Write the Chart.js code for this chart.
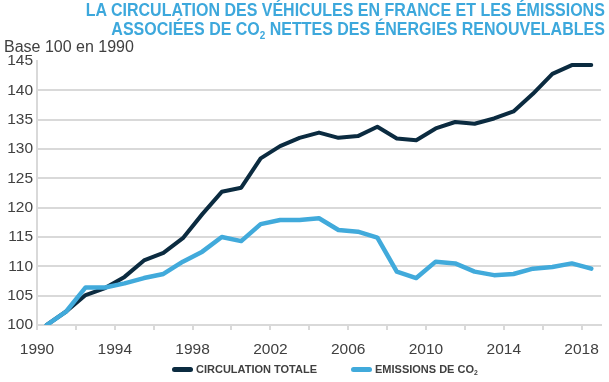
<!DOCTYPE html>
<html>
<head>
<meta charset="utf-8">
<script src="https://cdn.jsdelivr.net/npm/chart.js@4/dist/chart.umd.min.js"></script>
<style>
  html, body { margin: 0; padding: 0; background: #fff; }
  #wrap { position: relative; width: 609px; height: 382px; overflow: hidden; }
  #title { position: absolute; right: 4px; top: 1px; text-align: right; color: #3da8dc;
           font-family: "Liberation Sans", Arial, sans-serif; font-weight: bold;
           font-size: 17.5px; line-height: 19px; white-space: nowrap; transform-origin: right top; }
  #title sub, #legend sub { font-size: 0.62em; line-height: 0; vertical-align: -0.35em; }
  #sub { position: absolute; left: 4px; top: 38px; color: #404040;
         font-family: "Liberation Sans", Arial, sans-serif; font-size: 16px; line-height: 18px; }
  #legend { position: absolute; left: 172px; top: 363px; display: flex; align-items: center;
            font-family: "Liberation Sans", Arial, sans-serif; font-weight: bold; font-size: 11px; color: #404040; }
  .item { display: flex; align-items: center; margin-right: 34px; }
  .sw { width: 21px; height: 5px; border-radius: 3px; margin-right: 3px; }
  canvas { position: absolute; left: 0; top: 0; }
</style>
</head>
<body>
<div id="wrap">
  <canvas id="c" width="609" height="382"></canvas>
  <div id="title">LA CIRCULATION DES VÉHICULES EN FRANCE ET LES ÉMISSIONS<br>ASSOCIÉES DE CO<sub>2</sub> NETTES DES ÉNERGIES RENOUVELABLES</div>
  <div id="sub">Base 100 en 1990</div>
  <div id="legend"></div>
</div>
<script>
const years = [1990,1991,1992,1993,1994,1995,1996,1997,1998,1999,2000,2001,2002,2003,2004,
               2005,2006,2007,2008,2009,2010,2011,2012,2013,2014,2015,2016,2017,2018];
const circulationTotale = [100,102.3,105.1,106.3,108.2,111.0,112.3,114.8,118.9,122.7,123.4,128.4,130.5,131.9,132.8,
                           131.9,132.2,133.8,131.8,131.5,133.5,134.6,134.3,135.2,136.4,139.4,142.8,144.3,144.3];
const emissionsCO2 = [100,102.3,106.4,106.4,107.1,108.0,108.7,110.8,112.5,115.0,114.3,117.2,117.9,117.9,118.2,
                      116.2,115.9,114.9,109.1,108.0,110.8,110.5,109.1,108.5,108.7,109.6,109.9,110.5,109.6];
const xLabels = ["1990","1994","1998","2002","2006","2010","2014","2018"];
const seriesNames = ["CIRCULATION TOTALE", "EMISSIONS DE CO₂"];
const colors = ["#0b2b40", "#41aadb"];

// condense the title to the width it occupies in the reference
const title = document.getElementById('title');
const natural = title.getBoundingClientRect().width;
title.style.transform = 'scaleX(' + (519 / natural) + ')';

const leg = document.getElementById('legend');
seriesNames.forEach((n, i) => {
  const it = document.createElement('div'); it.className = 'item';
  const sw = document.createElement('div'); sw.className = 'sw'; sw.style.background = colors[i];
  const t = document.createElement('span');
  const parts = n.split('₂');
  t.appendChild(document.createTextNode(parts[0]));
  if (parts.length > 1) {
    const s = document.createElement('sub'); s.textContent = '2'; t.appendChild(s);
    t.appendChild(document.createTextNode(parts[1]));
  }
  it.appendChild(sw); it.appendChild(t); leg.appendChild(it);
});

const toPts = arr => arr.map((v, i) => ({x: years[i], y: v}));
const gridGray = '#d9d9d9';
const tickFont = {family: '"Liberation Sans", Arial, sans-serif', size: 15.5};

new Chart(document.getElementById('c'), {
  type: 'line',
  data: {
    datasets: [
      {label: seriesNames[0], data: toPts(circulationTotale), borderColor: colors[0], borderWidth: 4,
       pointRadius: 0, tension: 0, borderCapStyle: 'round', borderJoinStyle: 'round', order: 1},
      {label: seriesNames[1], data: toPts(emissionsCO2), borderColor: colors[1], borderWidth: 4.5,
       pointRadius: 0, tension: 0, borderCapStyle: 'round', borderJoinStyle: 'round', order: 0}
    ]
  },
  options: {
    responsive: false,
    animation: false,
    layout: {padding: {top: 61, right: 6, left: 0, bottom: 0}},
    plugins: {legend: {display: false}, tooltip: {enabled: false}, title: {display: false}},
    scales: {
      x: {
        type: 'linear',
        min: years[0] - 0.5,
        max: years[years.length - 1] + 0.5,
        afterBuildTicks: s => {
          const t = [];
          for (let v = years[0] - 0.5; v < years[years.length - 1]; v += 2) t.push({value: v});
          s.ticks = t;
        },
        afterFit: s => { s.height = 57; },
        border: {display: true, color: gridGray, width: 2},
        grid: {drawOnChartArea: false, drawTicks: true, tickLength: 5, color: gridGray, lineWidth: 2},
        ticks: {
          autoSkip: false, maxRotation: 0, padding: 10, color: '#404040', font: tickFont,
          callback: v => { const l = String(Math.round(v + 0.5)); return xLabels.includes(l) ? l : ''; }
        }
      },
      y: {
        min: 100, max: 145,
        afterFit: s => { s.width = 37; },
        border: {display: true, color: gridGray, width: 2},
        grid: {drawTicks: false, lineWidth: 2, color: c => (c.tick && c.tick.value === 145) ? 'rgba(0,0,0,0)' : gridGray},
        ticks: {stepSize: 5, padding: 4, color: '#404040', font: tickFont}
      }
    }
  }
});
</script>
</body>
</html>
